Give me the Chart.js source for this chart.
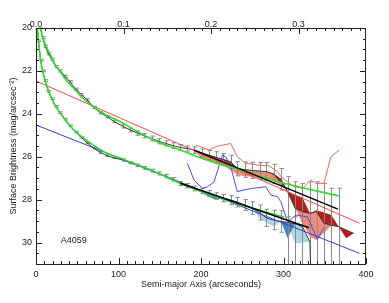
<!DOCTYPE html>
<html>
<head>
<meta charset="utf-8">
<title>A4059 surface brightness</title>
<script src="https://cdn.jsdelivr.net/npm/chart.js@4.4.1/dist/chart.umd.min.js"></script>
<style>
  html, body { margin: 0; padding: 0; background: #fff; }
  canvas { display: block; }
</style>
</head>
<body>
<canvas id="sbChart" width="389" height="303"></canvas>
<script>
// tick labels
var xTicks = [0, 100, 200, 300, 400];
var topTicks = [0.0, 0.1, 0.2, 0.3];
var yTicks = [20, 22, 24, 26, 28, 30];

// upper profile (arcsec, mag) + error bar sizes (mag)
var upR = [5, 8, 11, 15, 19, 24, 29, 35, 41, 48, 55, 62, 70, 78, 86, 94, 105, 114, 123, 131,
  140, 149, 157, 166, 175, 183.5, 192, 201, 210, 218, 227, 236, 244, 253, 262, 271, 279, 288, 297, 305,
  314, 323, 332, 340, 349, 358, 367, 376, 385];
var upMag = [19.95, 20.45, 20.85, 21.2, 21.45, 21.8, 22.0, 22.25, 22.5, 22.85, 23.1, 23.35, 23.7, 23.95, 24.13, 24.35, 24.58, 24.75, 24.9, 25.02,
  25.15, 25.28, 25.38, 25.48, 25.57, 25.62, 25.69, 25.82, 25.93, 26.02, 26.13, 26.23, 26.56, 26.6, 26.64, 26.67, 26.69, 26.8, 27.05, 27.63,
  28.4, 28.56, 28.64, 28.56, 29.1, 29.2, 29.26, 29.42, 29.57];
var upErrUp = [0.05, 0.05, 0.05, 0.05, 0.05, 0.05, 0.05, 0.05, 0.05, 0.05, 0.05, 0.05, 0.05, 0.05, 0.05, 0.05, 0.08, 0.09, 0.1, 0.1,
  0.11, 0.12, 0.12, 0.13, 0.14, 0.12, 0.15, 0.18, 0.22, 0.25, 0.28, 0.3, 0.33, 0.36, 0.38, 0.4, 0.42, 0.45, 0.5, 0.7,
  1.23, 1.32, 1.47, 1.39, 1.86, 1.73, 1.79, null, null];
var upErrDn = [0.05, 0.05, 0.05, 0.05, 0.05, 0.05, 0.05, 0.05, 0.05, 0.05, 0.05, 0.05, 0.05, 0.05, 0.05, 0.05, 0.08, 0.09, 0.1, 0.1,
  0.11, 0.12, 0.12, 0.13, 0.14, 0.12, 0.15, 0.18, 0.22, 0.25, 0.28, 0.3, 0.33, 0.36, 0.38, 0.4, 0.42, 0.45, 0.5, 9,
  9, 9, 9, 9, 9, 9, 9, null, null];

// upper profile with the sky level shifted either way
var upBandR = [192, 201, 210, 218, 227, 236, 244, 253, 262, 271, 279, 288, 297, 305, 314, 323, 332, 340, 349, 358, 367, 376, 385];
var upBandHi = [25.69, 25.8, 25.95, 26.05, 26.2, 26.35, 26.56, 26.6, 26.64, 26.67, 26.69, 26.85, 27.25, 27.63, 27.8, 27.9, 28.64, 28.5, 28.6, 28.72, 29.26, 29.8, 29.57];
var upBandLo = [25.75, 26.07, 26.2, 26.33, 26.42, 26.62, 26.85, 26.9, 26.95, 27.0, 27.02, 27.1, 27.35, 27.63, 28.4, 29.1, 29.73, 29.88, 29.56, 29.2, 29.26, 29.42, 29.57];

// lower profile
var loR = [1.5, 3, 5.5, 8, 11, 15, 19, 24, 29, 35, 41, 48, 55, 62, 70, 78, 86, 94, 105, 114,
  123, 131, 140, 149, 157, 166, 175, 183.5, 192, 201, 210, 218, 227, 236, 244, 253, 262, 271, 279, 288,
  297, 305, 314, 323, 332, 334];
var loMag = [20.0, 20.6, 21.5, 22.0, 22.45, 22.95, 23.3, 23.65, 23.95, 24.25, 24.55, 24.85, 25.1, 25.35, 25.6, 25.8, 25.95, 26.05, 26.15, 26.28,
  26.4, 26.52, 26.65, 26.78, 26.9, 27.05, 27.25, 27.35, 27.48, 27.6, 27.72, 27.83, 27.93, 28.02, 28.12, 28.25, 28.4, 28.6, 28.85, 28.95,
  29.02, 29.06, 29.12, 29.26, 29.96, 32.5];
var loErrUp = [0.04, 0.04, 0.04, 0.04, 0.04, 0.04, 0.04, 0.04, 0.04, 0.04, 0.04, 0.04, 0.04, 0.04, 0.04, 0.04, 0.04, 0.04, 0.05, 0.05,
  0.06, 0.06, 0.07, 0.07, 0.08, 0.08, 0.09, 0.1, 0.11, 0.12, 0.14, 0.15, 0.17, 0.2, 0.22, 0.25, 0.3, 0.35, 0.4, 0.45,
  0.5, 0.26, 0.32, 0.26, 0.8, null];
var loErrDn = [0.04, 0.04, 0.04, 0.04, 0.04, 0.04, 0.04, 0.04, 0.04, 0.04, 0.04, 0.04, 0.04, 0.04, 0.04, 0.04, 0.04, 0.04, 0.05, 0.05,
  0.06, 0.06, 0.07, 0.07, 0.08, 0.08, 0.09, 0.1, 0.11, 0.12, 0.14, 0.15, 0.17, 0.2, 0.22, 0.25, 0.3, 0.35, 0.4, 0.45,
  0.5, 9, 9, 9, 9, null];

var loBandR = [192, 201, 210, 218, 227, 236, 244, 253, 262, 271, 279, 288, 297, 305, 314, 323, 332];
var loBandHi = [27.48, 27.68, 27.88, 28.0, 27.93, 28.02, 28.12, 28.25, 28.4, 28.6, 28.85, 28.95, 29.02, 29.8, 29.12, 29.26, 29.96];
var loBandLo = [27.48, 27.6, 27.72, 27.83, 27.93, 28.02, 28.12, 28.25, 28.4, 28.87, 29.05, 29.26, 29.02, 29.06, 30.04, 30.0, 29.96];

// thin red / blue profiles
var thinRedR = [193.6, 209.8, 218, 236, 244, 254, 268.5, 282.6, 292.8, 296.8, 313, 323, 333, 339, 349, 357.5, 367.6];
var thinRedMag = [25.45, 25.69, 25.53, 25.38, 26.0, 26.3, 26.39, 26.43, 26.7, 26.93, 27.4, 27.47, 27.09, 27.24, 27.24, 26.0, 25.69];
var thinBlueR = [183.5, 191.6, 201.7, 207.8, 215.8, 226, 230, 236, 244, 252, 262.4, 278.6, 284.7, 292.8, 296.8, 305, 315, 329, 341, 349];
var thinBlueMag = [26.31, 27.09, 27.47, 27.4, 27.17, 25.92, 26.0, 26.47, 27.63, 27.55, 27.47, 27.4, 27.79, 27.86, 28.1, 29.03, 28.72, 28.8, 29.85, 29.3];

// straight fits
var redFitR = [0, 392], redFitMag = [22.47, 29.1];
var blueFitR = [0, 392], blueFitMag = [24.52, 30.5];
var blackUpR = [191.6, 366], blackUpMag = [25.69, 28.44];
var blackLoR = [175, 331], blackLoMag = [27.24, 29.31];

// model curves
var greenUpR = [4.5, 8, 12, 17.6, 23, 29.7, 37, 45.5, 53, 62, 70, 80, 90, 99, 117, 135, 150, 175, 203, 250, 297, 367];
var greenUpMag = [19.85, 20.4, 20.85, 21.26, 21.7, 22.05, 22.45, 22.8, 23.12, 23.45, 23.7, 23.95, 24.15, 24.3, 24.7, 25.08, 25.35, 25.69, 26.1, 26.65, 27.2, 27.83];
var greenLoR = [1, 1.5, 3, 5.5, 10, 15, 21.6, 30, 42, 55, 66, 86, 100, 115, 135, 150, 175, 215, 256, 301];
var greenLoMag = [19.8, 20.0, 20.6, 21.5, 22.3, 22.9, 23.5, 24.0, 24.6, 25.05, 25.37, 25.84, 26.03, 26.26, 26.55, 26.8, 27.25, 27.82, 28.32, 28.82];

function pts(xs, ys) {
  return xs.map(function(x, i){ return {x: x, y: ys[i]}; });
}

function line(data, color, width, order, extra) {
  var ds = {data: data, borderColor: color, borderWidth: width, pointRadius: 0, fill: false, order: order};
  for (var k in extra) ds[k] = extra[k];
  return ds;
}

var clear = 'rgba(0,0,0,0)';

var datasets = [
  line(pts(upR, upMag), '#3a3a3a', 1, 6),                       // 0
  line(pts(loR, loMag), '#3a3a3a', 1, 6),                       // 1
  line(pts(upBandR, upBandLo), clear, 1, 10, {fill: {target: 0}, backgroundColor: '#f7897a'}),
  line(pts(upBandR, upBandHi), clear, 1, 9, {fill: {target: 0}, backgroundColor: '#b3201c'}),
  line(pts(loBandR, loBandLo), clear, 1, 10, {fill: {target: 1}, backgroundColor: '#a9d6e3'}),
  line(pts(loBandR, loBandHi), clear, 1, 9, {fill: {target: 1}, backgroundColor: '#4a82b2'}),
  line(pts(thinRedR, thinRedMag), '#f06666', 1, 5),
  line(pts(thinBlueR, thinBlueMag), '#4a4ae8', 1, 5),
  line(pts(redFitR, redFitMag), '#ee4a4a', 1, 4),
  line(pts(blueFitR, blueFitMag), '#3a3ad8', 1, 4),
  line(pts(greenUpR, greenUpMag), '#2fdc2f', 1.6, 3, {cubicInterpolationMode: 'monotone'}),
  line(pts(greenLoR, greenLoMag), '#2fdc2f', 1.6, 3, {cubicInterpolationMode: 'monotone'}),
  line(pts(blackUpR, blackUpMag), '#000', 1.5, 2),
  line(pts(blackLoR, blackLoMag), '#000', 1.5, 2)
];

function drawBars(ctx, xs, ys, area, rs, mags, up, dn) {
  ctx.beginPath();
  for (var i = 0; i < rs.length; i++) {
    if (up[i] == null) continue;
    var px = Math.round(xs.getPixelForValue(rs[i])) + 0.5;
    var pTop = ys.getPixelForValue(mags[i] - up[i]);
    var pBot = ys.getPixelForValue(mags[i] + dn[i]);
    ctx.moveTo(px, Math.max(pTop, area.top));
    ctx.lineTo(px, Math.min(pBot, area.bottom));
    if (pTop >= area.top) { ctx.moveTo(px - 2, pTop); ctx.lineTo(px + 2.5, pTop); }
    if (pBot <= area.bottom) { ctx.moveTo(px - 2, pBot); ctx.lineTo(px + 2.5, pBot); }
  }
  ctx.stroke();
}

var frame = {
  id: 'frame',
  beforeDatasetsDraw: function(chart) {
    var ctx = chart.ctx, a = chart.chartArea;
    ctx.save();
    ctx.strokeStyle = '#8a8a8a';
    ctx.lineWidth = 1;
    drawBars(ctx, chart.scales.x, chart.scales.y, a, upR, upMag, upErrUp, upErrDn);
    drawBars(ctx, chart.scales.x, chart.scales.y, a, loR, loMag, loErrUp, loErrDn);
    ctx.restore();
  },
  afterDraw: function(chart) {
    var ctx = chart.ctx, a = chart.chartArea;
    var x = chart.scales.x, x2 = chart.scales.x2, y = chart.scales.y;
    ctx.save();
    ctx.strokeStyle = '#222';
    ctx.lineWidth = 1;
    ctx.beginPath();
    ctx.rect(Math.round(a.left) + 0.5, Math.round(a.top) + 0.5, Math.round(a.right - a.left) - 1, Math.round(a.bottom - a.top));
    var v, p, len;
    // bottom axis: minor every 10
    for (v = 0; v <= 400; v += 10) {
      p = Math.round(x.getPixelForValue(v)) + 0.5;
      len = v % 100 === 0 ? 6 : 3;
      ctx.moveTo(p, a.bottom); ctx.lineTo(p, a.bottom - len);
    }
    // top axis: minor every 0.01
    for (var k = 0; k * 0.01 <= x2.max; k++) {
      p = Math.round(x2.getPixelForValue(k * 0.01)) + 0.5;
      len = k % 10 === 0 ? 6 : 3;
      ctx.moveTo(p, a.top); ctx.lineTo(p, a.top + len);
    }
    // left / right axes: minor every 0.5
    for (v = 20; v <= 31; v += 0.5) {
      p = Math.round(y.getPixelForValue(v)) + 0.5;
      len = v % 2 === 0 ? 6 : 3;
      ctx.moveTo(a.left, p); ctx.lineTo(a.left + len, p);
      ctx.moveTo(a.right, p); ctx.lineTo(a.right - len, p);
    }
    ctx.stroke();
    ctx.fillStyle = '#222';
    ctx.font = '9px "Liberation Sans", Arial, sans-serif';
    ctx.textBaseline = 'middle';
    ctx.fillText('A4059', x.getPixelForValue(30), y.getPixelForValue(29.9));
    ctx.restore();
  }
};

var tickFont = {family: '"Liberation Sans", Arial, sans-serif', size: 9};

new Chart(document.getElementById('sbChart'), {
  type: 'line',
  data: {datasets: datasets},
  plugins: [frame],
  options: {
    responsive: false,
    devicePixelRatio: 1,
    animation: false,
    events: [],
    layout: {padding: {left: 0, right: 23, top: 0, bottom: 0}},
    plugins: {
      legend: {display: false},
      tooltip: {enabled: false},
      filler: {propagate: false, drawTime: 'beforeDatasetsDraw'}
    },
    scales: {
      x: {
        type: 'linear', position: 'bottom', min: 0, max: 400,
        grid: {display: false, drawTicks: false, tickLength: 0},
        border: {display: false},
        afterBuildTicks: function(s) { s.ticks = xTicks.map(function(v){ return {value: v}; }); },
        afterFit: function(s) { s.height = 39; },
        ticks: {font: tickFont, color: '#222', padding: 5, maxRotation: 0},
        title: {display: true, text: 'Semi-major Axis (arcseconds)', font: tickFont, color: '#222', padding: {top: 0, bottom: 13}}
      },
      x2: {
        type: 'linear', position: 'top', min: 0, max: 0.377,
        grid: {display: false, drawTicks: false, tickLength: 0},
        border: {display: false},
        afterBuildTicks: function(s) { s.ticks = topTicks.map(function(v){ return {value: v}; }); },
        afterFit: function(s) { s.height = 28; },
        ticks: {font: tickFont, color: '#222', padding: -2, maxRotation: 0,
          callback: function(v) { return v.toFixed(1); }}
      },
      y: {
        type: 'linear', position: 'left', min: 20, max: 31, reverse: true,
        grid: {display: false, drawTicks: false, tickLength: 0},
        border: {display: false},
        afterBuildTicks: function(s) { s.ticks = yTicks.map(function(v){ return {value: v}; }); },
        afterFit: function(s) { s.width = 36; },
        ticks: {font: tickFont, color: '#222', padding: 4},
        title: {display: true, text: 'Surface Brightness (mag/arcsec\u207B\u00B2)', font: tickFont, color: '#222', padding: {top: 8, bottom: 0}}
      }
    }
  }
});
</script>
</body>
</html>
